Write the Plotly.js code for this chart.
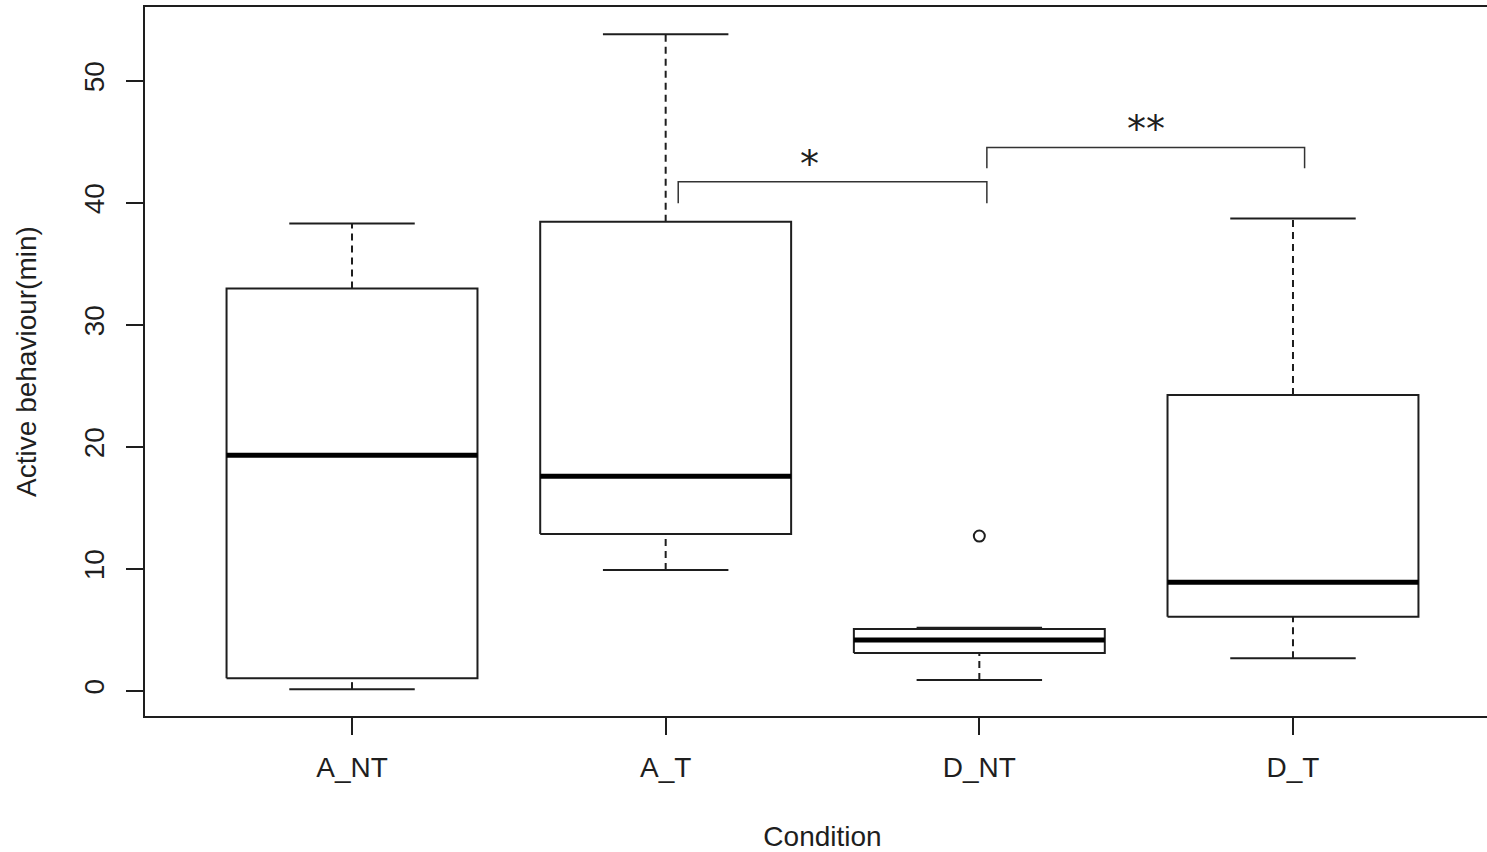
<!DOCTYPE html>
<html>
<head>
<meta charset="utf-8">
<script src="https://cdn.plot.ly/plotly-3.0.1.min.js"></script>
<style>
html, body { margin: 0; padding: 0; overflow: hidden; background: #fff; }
#chart { width: 1520px; height: 852px; }
</style>
</head>
<body>
<div id="chart"></div>
<script>
// ---- data ----
const categories = ['A_NT', 'A_T', 'D_NT', 'D_T'];
const lowerWhisker = [0.15, 9.91, 0.90, 2.68];
const q1 = [1.05, 12.86, 3.11, 6.09];
const median = [19.33, 17.61, 4.18, 8.91];
const q3 = [32.99, 38.45, 5.08, 24.25];
const upperWhisker = [38.32, 53.83, 5.19, 38.73];
const outlierCategory = ['D_NT'];
const outlierValue = [12.70];

// significance brackets
const sigFrom = ['A_T', 'D_NT'];
const sigTo = ['D_NT', 'D_T'];
const sigTop = [41.73, 44.55];
const sigBottom = [39.98, 42.85];
const sigLabel = ['*', '**'];

// ---- styling ----
const INK = '#1e1e1e';
const BOX_HALF = 0.4;
const CAP_HALF = 0.2;
const FONT = 'Liberation Sans, Arial, sans-serif';

const idx = c => categories.indexOf(c);

const boxX = [], boxY = [];
const medX = [], medY = [];
const whX = [], whY = [];
const capX = [], capY = [];
categories.forEach((c, i) => {
  boxX.push(i - BOX_HALF, i + BOX_HALF, i + BOX_HALF, i - BOX_HALF, i - BOX_HALF, null);
  boxY.push(q1[i], q1[i], q3[i], q3[i], q1[i], null);
  medX.push(i - BOX_HALF, i + BOX_HALF, null);
  medY.push(median[i], median[i], null);
  whX.push(i, i, null, i, i, null);
  whY.push(lowerWhisker[i], q1[i], null, q3[i], upperWhisker[i], null);
  capX.push(i - CAP_HALF, i + CAP_HALF, null, i - CAP_HALF, i + CAP_HALF, null);
  capY.push(lowerWhisker[i], lowerWhisker[i], null, upperWhisker[i], upperWhisker[i], null);
});

// bracket legs sit slightly right of the category centres, as in the reference
const legOffsetL = [0.04, 0.024];
const legOffsetR = [0.024, 0.037];
const labelShift = [-0.072, 0.0];
const brX = [], brY = [];
const annotations = [];
sigFrom.forEach((f, k) => {
  const a = idx(f) + legOffsetL[k];
  const b = idx(sigTo[k]) + legOffsetR[k];
  brX.push(a, a, b, b, null);
  brY.push(sigBottom[k], sigTop[k], sigTop[k], sigBottom[k], null);
  annotations.push({
    x: (a + b) / 2 + labelShift[k], y: sigTop[k] + 1.5, xref: 'x', yref: 'y',
    text: sigLabel[k], showarrow: false, yanchor: 'middle', xanchor: 'center',
    font: {family: 'DejaVu Sans, sans-serif', size: 38, color: INK}
  });
});

const traces = [
  {x: whX, y: whY, mode: 'lines', line: {color: INK, width: 2, dash: '7px,5px'}, hoverinfo: 'skip'},
  {x: capX, y: capY, mode: 'lines', line: {color: INK, width: 2}, hoverinfo: 'skip'},
  {x: boxX, y: boxY, mode: 'lines', line: {color: INK, width: 2}, hoverinfo: 'skip'},
  {x: medX, y: medY, mode: 'lines', line: {color: '#000', width: 5}, hoverinfo: 'skip'},
  {x: outlierCategory.map(idx), y: outlierValue, mode: 'markers',
   marker: {symbol: 'circle-open', size: 11, color: INK, line: {width: 2, color: INK}}, hoverinfo: 'skip'},
  {x: brX, y: brY, mode: 'lines', line: {color: '#333', width: 1.5}, hoverinfo: 'skip'}
];

const layout = {
  width: 1520, height: 852,
  margin: {l: 145, r: 20, t: 7, b: 136},
  paper_bgcolor: '#fff', plot_bgcolor: '#fff',
  showlegend: false,
  font: {family: FONT, size: 28, color: INK},
  xaxis: {
    range: [-0.66, 3.66],
    tickvals: categories.map((c, i) => i),
    ticktext: categories,
    ticks: 'outside', ticklen: 17, tickwidth: 2, tickcolor: INK,
    ticklabelstandoff: 8,
    showline: true, linewidth: 2, linecolor: INK, mirror: true,
    showgrid: false, zeroline: false,
    tickfont: {family: FONT, size: 28, color: INK},
    title: {text: 'Condition', font: {family: FONT, size: 28, color: INK}, standoff: 46}
  },
  yaxis: {
    range: [-2.05, 56.06],
    tickvals: [0, 10, 20, 30, 40, 50],
    ticks: 'outside', ticklen: 17, tickwidth: 2, tickcolor: INK,
    tickangle: -90,
    ticklabelstandoff: 11,
    showline: true, linewidth: 2, linecolor: INK, mirror: true,
    showgrid: false, zeroline: false,
    tickfont: {family: FONT, size: 28, color: INK},
    title: {text: 'Active behaviour(min)', font: {family: FONT, size: 28, color: INK}, standoff: 34}
  },
  annotations: annotations
};

Plotly.newPlot('chart', traces, layout, {displayModeBar: false, staticPlot: true});
</script>
</body>
</html>
